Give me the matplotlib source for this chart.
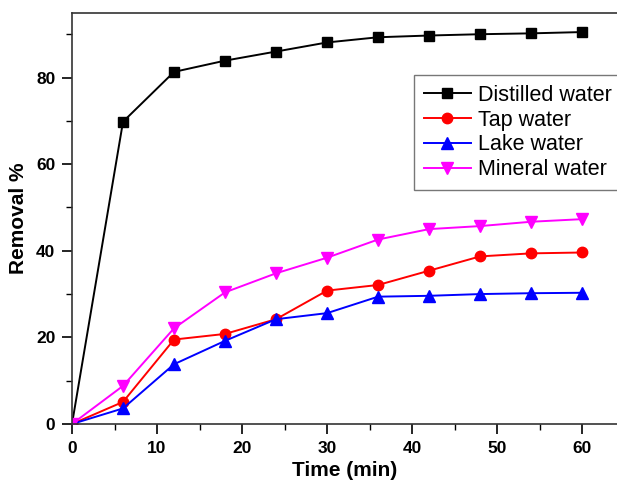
import matplotlib
matplotlib.use("Agg")
from matplotlib import pyplot as plt
from matplotlib.ticker import MultipleLocator

plt.rcParams['font.family'] = ['Liberation Sans', 'DejaVu Sans']

time = [0, 6, 12, 18, 24, 30, 36, 42, 48, 54, 60]
distilled = [0, 69.8, 81.3, 83.9, 86.0, 88.1, 89.3, 89.7, 90.0, 90.2, 90.5]
tap = [0, 5.1, 19.5, 20.8, 24.2, 30.8, 32.1, 35.4, 38.7, 39.4, 39.6]
lake = [0, 3.6, 13.8, 19.2, 24.2, 25.6, 29.4, 29.6, 30.0, 30.2, 30.3]
mineral = [0, 8.8, 22.1, 30.4, 34.8, 38.4, 42.6, 45.0, 45.7, 46.7, 47.3]

fig = plt.figure(figsize=(6.17, 4.83), dpi=100)
ax = fig.add_axes([72/617, 59/483, 1 - 72/617, (424-13)/483])

ax.plot(time, distilled, color='black', marker='s', ms=7, lw=1.4, label='Distilled water')
ax.plot(time, tap, color='red', marker='o', ms=7.5, lw=1.4, label='Tap water')
ax.plot(time, lake, color='blue', marker='^', ms=8, lw=1.4, label='Lake water')
ax.plot(time, mineral, color='magenta', marker='v', ms=8, lw=1.4, label='Mineral water')

ax.set_xlim(0, 64.1)
ax.set_ylim(0, 94.9)
ax.xaxis.set_major_locator(MultipleLocator(10))
ax.xaxis.set_minor_locator(MultipleLocator(5))
ax.yaxis.set_major_locator(MultipleLocator(20))
ax.yaxis.set_minor_locator(MultipleLocator(10))
ax.tick_params(which='major', direction='out', length=7, width=1.2, labelsize=12.5, pad=5)
ax.tick_params(which='minor', direction='out', length=4, width=1.0)
ax.tick_params(top=False, right=False)
for lab in ax.get_xticklabels() + ax.get_yticklabels():
    lab.set_fontweight('bold')

ax.spines['right'].set_visible(False)
for s in ['left', 'bottom', 'top']:
    ax.spines[s].set_linewidth(1.2)
    ax.spines[s].set_color('#333333')

ax.set_xlabel('Time (min)', fontsize=15, fontweight='bold', labelpad=4)
ax.set_ylabel('Removal %', fontsize=15, fontweight='bold', labelpad=6)

leg = ax.legend(loc='upper left', bbox_to_anchor=(414/617, 1 - 75/483),
                bbox_transform=fig.transFigure, fontsize=15.5, frameon=True,
                fancybox=False, edgecolor='#555555', handlelength=2.2,
                handletextpad=0.3, labelspacing=0.18, borderpad=0.45,
                borderaxespad=0)
leg.get_frame().set_linewidth(1.0)

fig.savefig('out.png', dpi=100)
